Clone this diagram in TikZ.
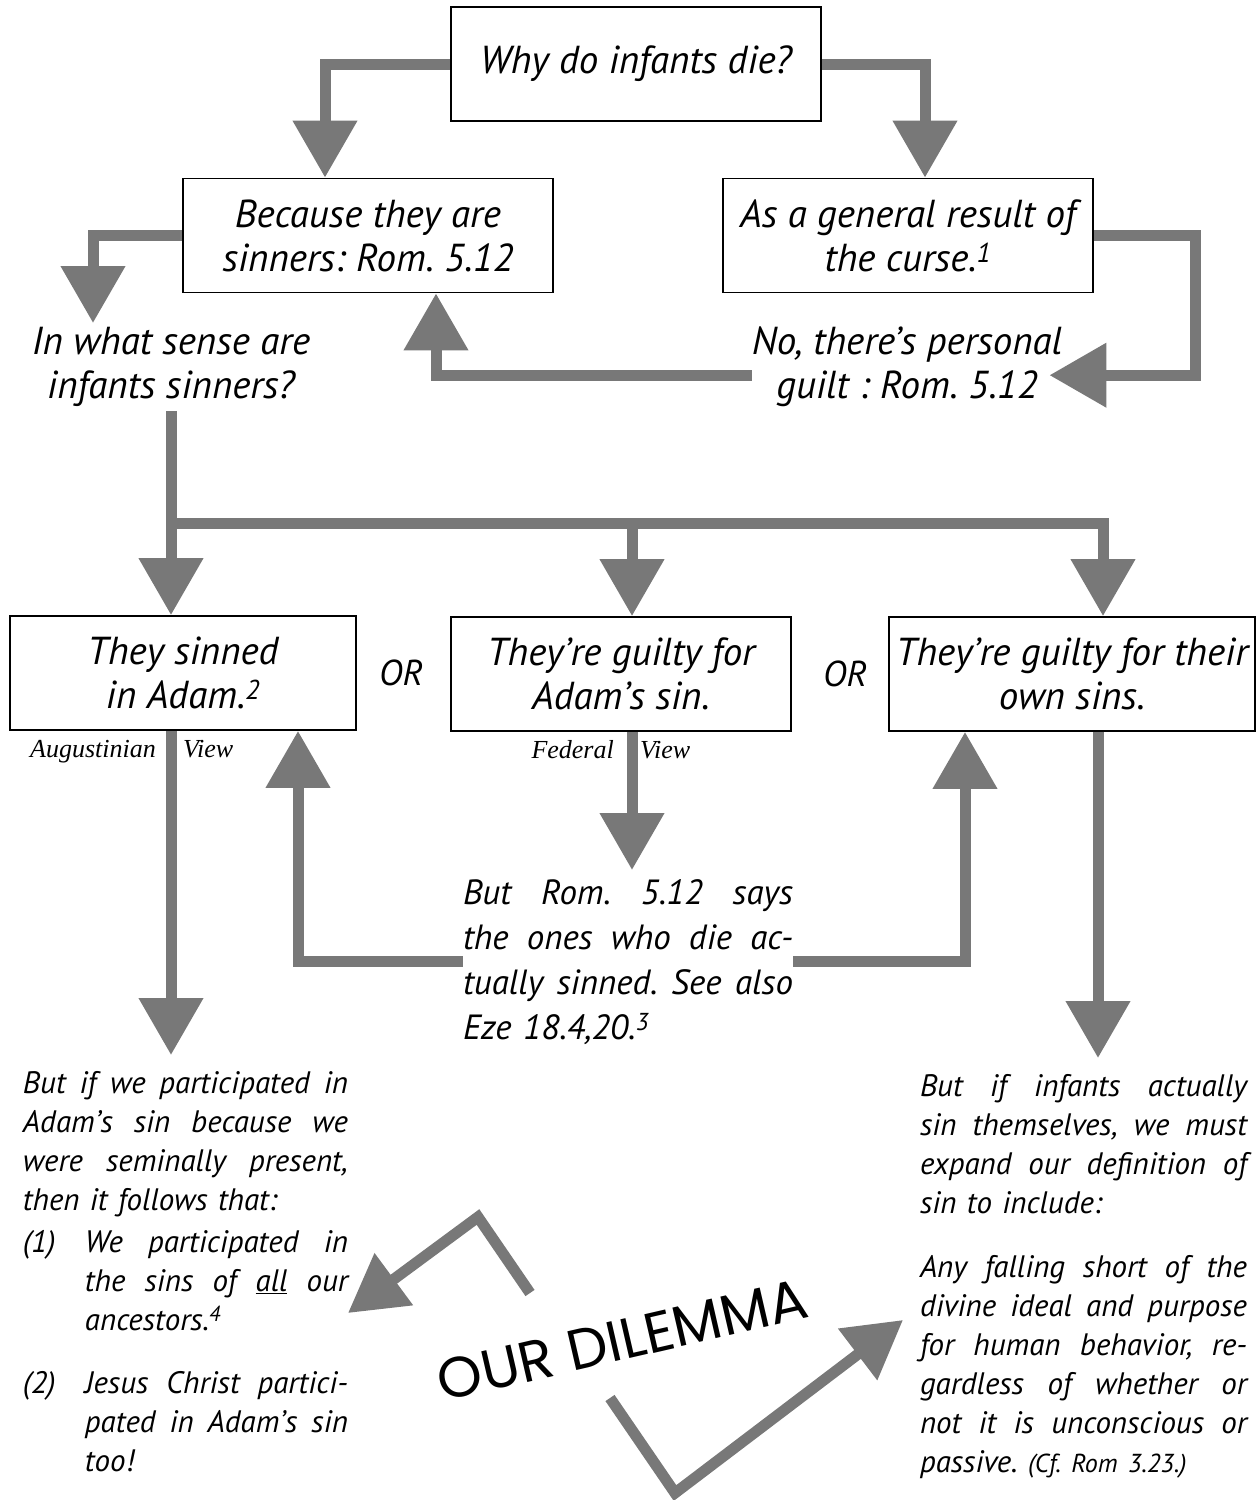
\documentclass[tikz,border=0pt]{standalone}
\usepackage{fontspec}
\setmainfont{PT Sans}
\newfontfamily\viewfont{Liberation Serif}
\newfontfamily\scrawlfont{Poppins}
\usetikzlibrary{arrows.meta, positioning}
\definecolor{flowgray}{RGB}{120,120,120}
% a justified line of a given width
\newcommand\jline[2][325pt]{\makebox[#1][s]{\spaceskip=0pt\xspaceskip=0pt\relax #2}}

\begin{document}
\frenchspacing
\begin{tikzpicture}[
    x=1pt, y=-1pt,
    box/.style={draw, line width=1.8pt, align=center, inner sep=0pt, minimum height=114pt,
        font=\fontsize{39}{44}\selectfont\itshape},
    talk/.style={align=center, inner xsep=0pt, inner ysep=4pt, font=\fontsize{39}{44}\selectfont\itshape},
    para/.style={align=left, inner xsep=0pt, inner ysep=16pt, font=\fontsize{31}{39}\selectfont\itshape},
    orlbl/.style={inner sep=0pt, font=\fontsize{36}{40}\selectfont\itshape},
    viewlbl/.style={inner sep=0pt, font=\fontsize{26}{30}\selectfont\viewfont\itshape},
    scrawl/.style={inner sep=0pt, font=\fontsize{57}{60}\selectfont\scrawlfont},
    flow/.style={draw=flowgray, line width=11pt, -{Triangle[width=62pt,length=57pt]}}
]
    \useasboundingbox (0,0) rectangle (1257,1500);

    \node[box, minimum width=370pt] (why) at (636,64) {Why do infants die?};
    \node[box, minimum width=370pt] (sinners) at (368,235.5) {Because they are\\ sinners: Rom. 5.12};
    \node[box, minimum width=370pt] (curse) at (908,235.5) {As a general result of\\ the curse.\textsuperscript{1}};
    \node[talk, anchor=north] (sense) at (171,323) {In what sense are\\ infants sinners?};
    \node[talk, anchor=north] (guilt) at (907,323) {No, there’s personal\\ guilt : Rom. 5.12};

    \node[box, minimum width=346pt] (adam) at (183,673) {They sinned\\ in Adam.\textsuperscript{2}};
    \node[box, minimum width=340pt] (federal) at (621,674) {They’re guilty for\\ Adam’s sin.};
    \node[box, minimum width=366pt] (own) at (1072,674) {They’re guilty for their\\ own sins.};
    \node[orlbl, right=22pt of adam] (or1) {OR};
    \node[orlbl, right=31pt of federal] (or2) {OR};

    \node[viewlbl, anchor=base east] (augA) at (156,757) {Augustinian};
    \node[viewlbl, anchor=base west] (augB) at (183,757) {View};
    \node[viewlbl, anchor=base east] (fedA) at (614,758) {Federal};
    \node[viewlbl, anchor=base west] (fedB) at (640,758) {View};

    \node[para, text width=330pt, inner ysep=9pt, font=\fontsize{35}{45}\selectfont\itshape,
        anchor=north] (ones) at (628,870) {%
        \jline[330pt]{But Rom. 5.12 says}\\
        \jline[330pt]{the ones who die ac-}\\
        \jline[330pt]{tually sinned. See also}\\
        Eze 18.4,20.\textsuperscript{3}};

    \node[para, text width=325pt, anchor=north] (partic) at (185.5,1055) {%
        \jline{But if we participated in}\\
        \jline{Adam’s sin because we}\\
        \jline{were seminally present,}\\
        then it follows that:\\[3pt]
        \makebox[62pt][l]{(1)}\jline[263pt]{We participated in}\\
        \hspace*{62pt}\jline[263pt]{the sins of \underline{all} our}\\
        \hspace*{62pt}ancestors.\textsuperscript{4}\\[24pt]
        \makebox[62pt][l]{(2)}\jline[263pt]{Jesus Christ partici-}\\
        \hspace*{62pt}\jline[263pt]{pated in Adam’s sin}\\
        \hspace*{62pt}too!};

    \node[para, text width=327pt, anchor=north] (expand) at (1083.5,1058) {%
        \jline[327pt]{But if infants actually}\\
        \jline[327pt]{sin themselves, we must}\\
        \jline[327pt]{expand our definition of}\\
        sin to include:\\[25pt]
        \jline[327pt]{Any falling short of the}\\
        \jline[327pt]{divine ideal and purpose}\\
        \jline[327pt]{for human behavior, re-}\\
        \jline[327pt]{gardless of whether or}\\
        \jline[327pt]{not it is unconscious or}\\
        passive. {\fontsize{26}{39}\selectfont(Cf. Rom 3.23.)}};

    \node[scrawl, rotate=13] (dilemma) at (622,1340) {OUR DILEMMA};

    \coordinate (rcol) at (1195,300);
    \coordinate (hub) at (171,523);
    \coordinate (fedTop) at ([xshift=11pt]federal.north);
    \coordinate (ownTop) at ([xshift=31pt]own.north);
    \coordinate (fedDrop) at ([xshift=11pt]federal.south);
    \coordinate (ownDrop) at ([xshift=26pt]own.south);
    \coordinate (dl1) at (530,1293);
    \coordinate (dl2) at (478,1217);
    \coordinate (dl3) at (348,1313);
    \coordinate (dr1) at (610,1398);
    \coordinate (dr2) at (675,1493);
    \coordinate (dr3) at (903,1320);

    \draw[flow] (why.west) -| ([xshift=-43pt]sinners.north);
    \draw[flow] (why.east) -| ([xshift=17pt]curse.north);
    \draw[flow] (sinners.west) -| ([xshift=-78pt]sense.north);
    \draw[flow] (curse.east) -| (rcol) |- ([xshift=-13pt,yshift=-8pt]guilt.east);
    \draw[flow] ([yshift=-8pt]guilt.west) -| ([xshift=68pt]sinners.south);

    \draw[flow] (sense.south) -- (sense.south |- adam.north);
    \draw[flow] (hub) -| (ownTop);
    \draw[flow] (fedTop |- hub) -- (fedTop);

    \draw[flow] (sense.south |- adam.south) -- (sense.south |- partic.north);
    \draw[flow] (fedDrop) -- (fedDrop |- ones.north);
    \draw[flow] (ownDrop) -- (ownDrop |- expand.north);
    \draw[flow] (ones.west) -| ([xshift=115pt]adam.south);
    \draw[flow] (ones.east) -| ([xshift=-107pt]own.south);

    \draw[flow] (dl1) -- (dl2) -- (dl3);
    \draw[flow] (dr1) -- (dr2) -- (dr3);
\end{tikzpicture}
\end{document}
